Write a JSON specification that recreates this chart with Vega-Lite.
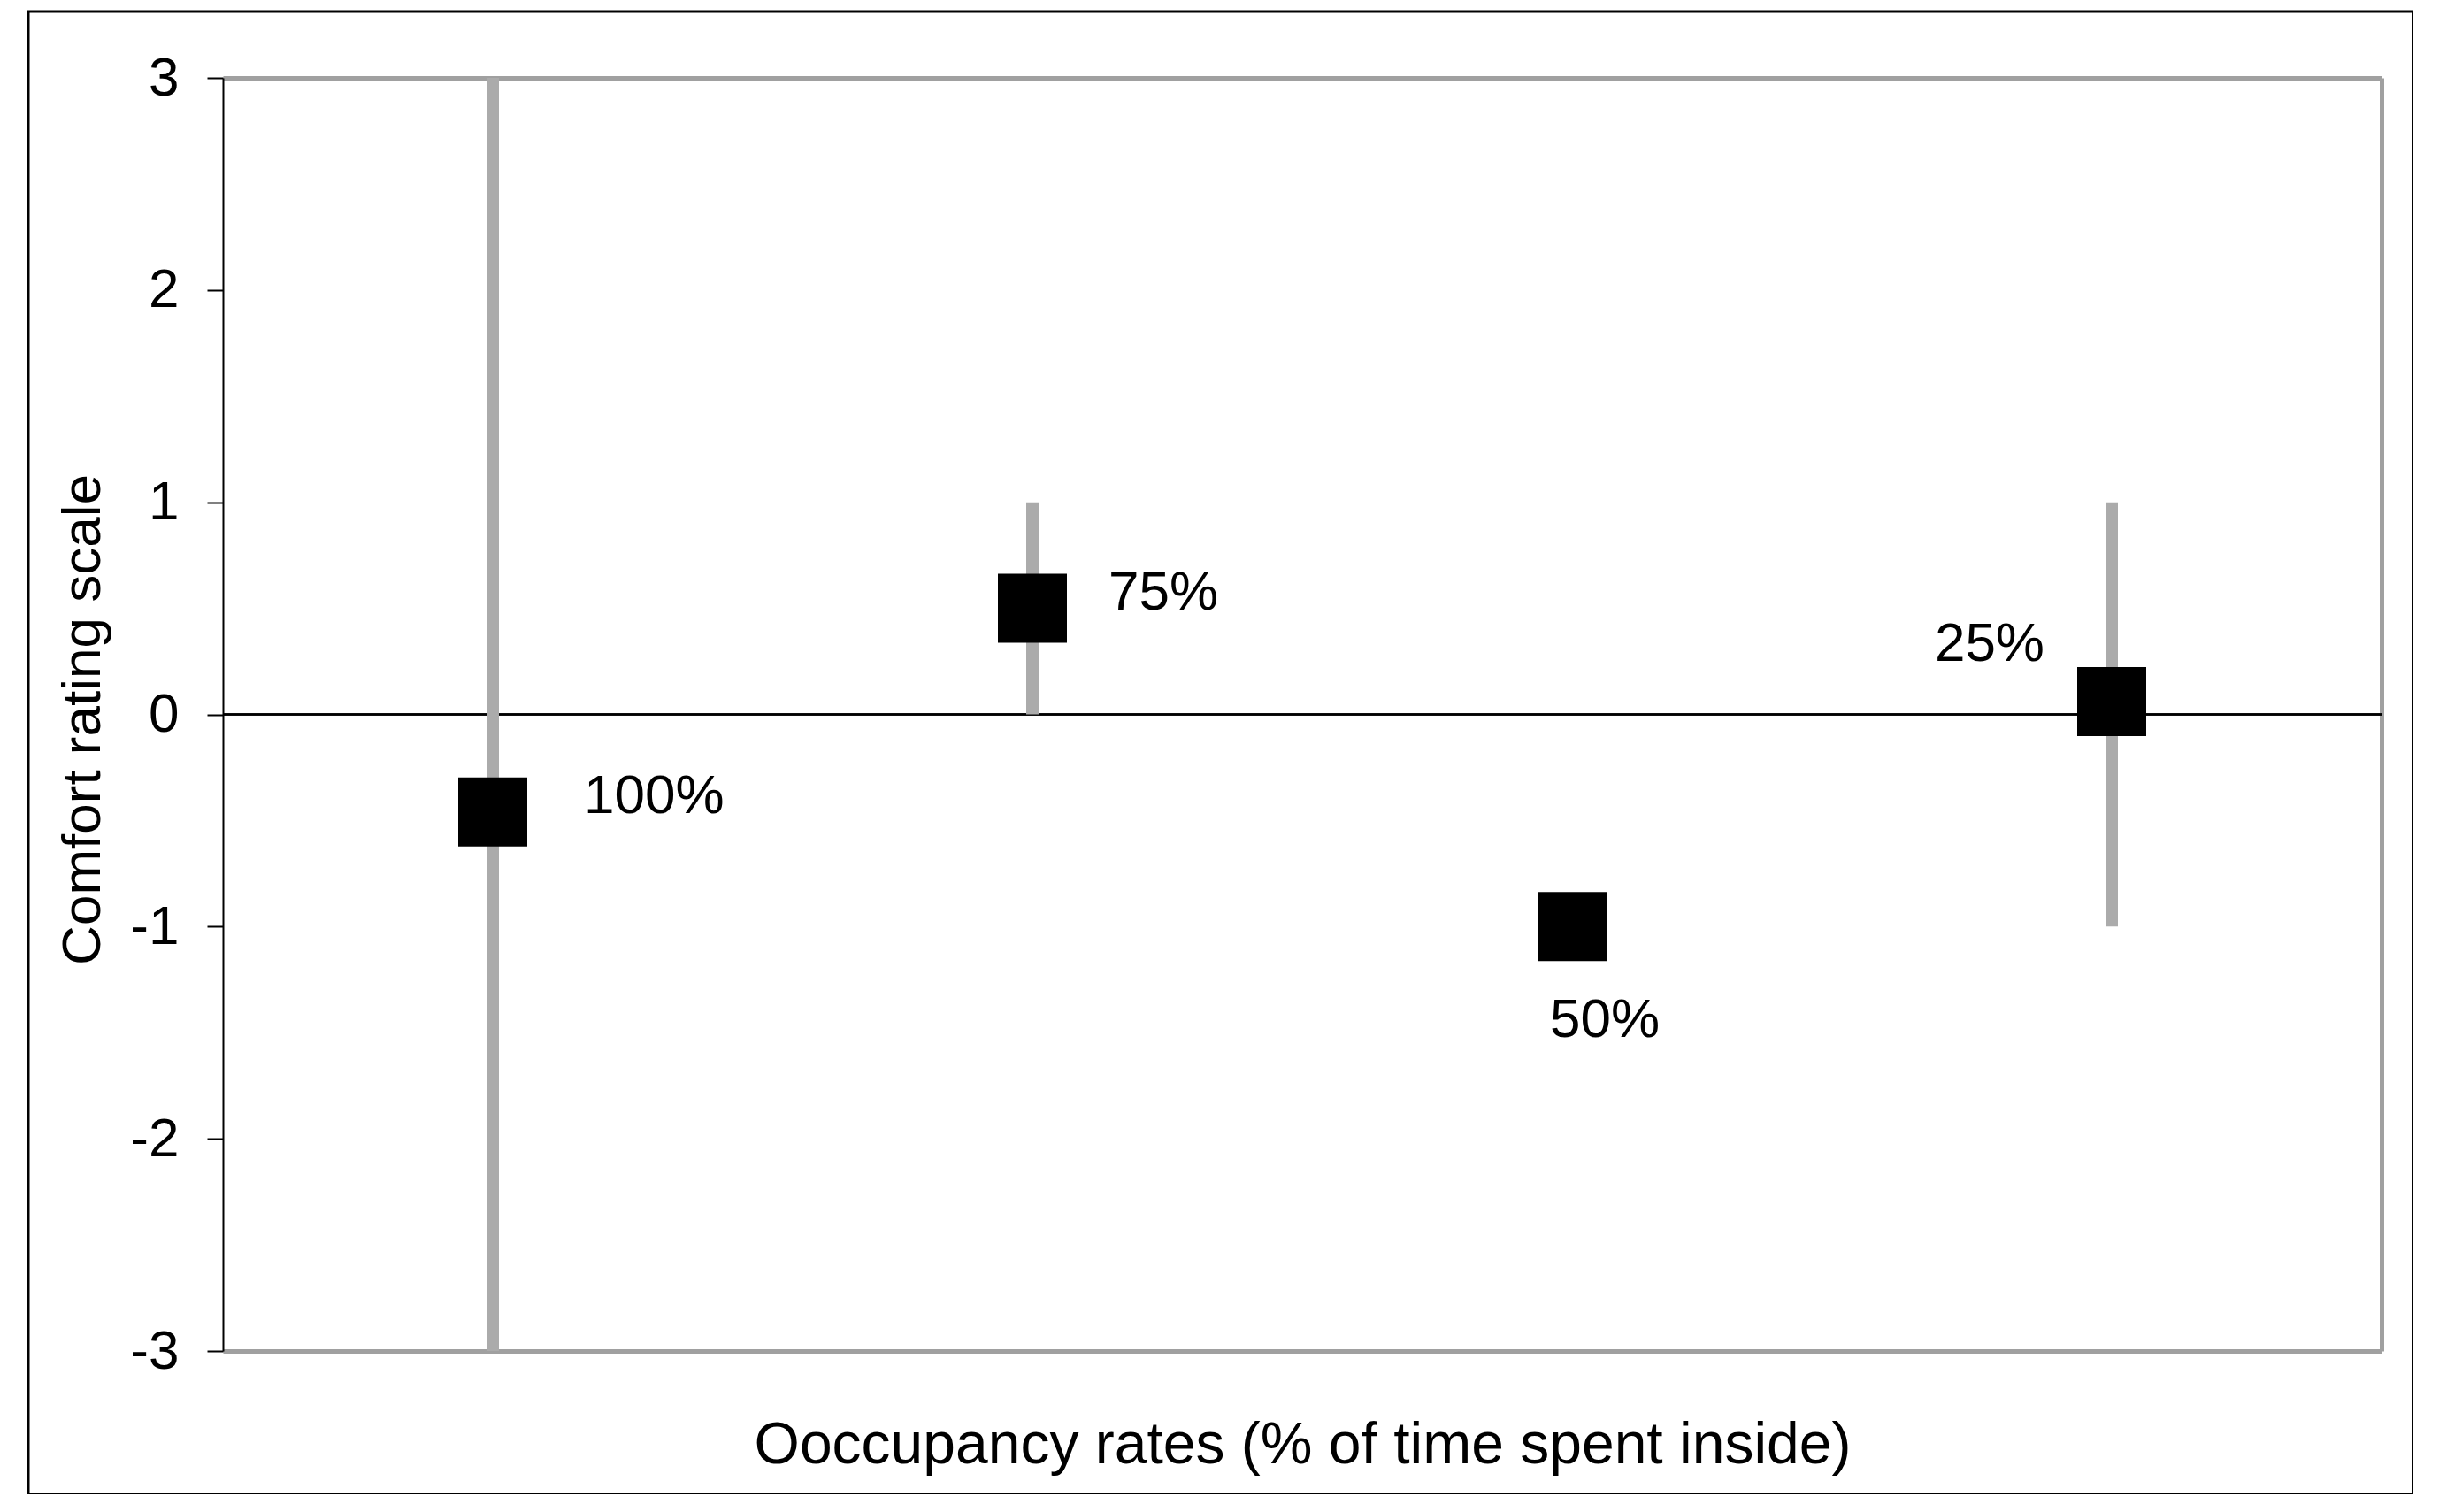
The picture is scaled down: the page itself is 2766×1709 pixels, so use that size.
{
  "$schema": "https://vega.github.io/schema/vega-lite/v6.json",
  "description": "Comfort rating by occupancy rate, mean with range bars.",
  "autosize": {"type": "none"},
  "padding": {"left": 32, "top": 13, "right": 0, "bottom": 0},
  "width": 2696,
  "height": 1676,
  "background": "white",
  "data": {
    "values": [
      {"occupancy": "100%", "mean": -0.46, "lo": -3, "hi": 3},
      {"occupancy": "75%", "mean": 0.5, "lo": 0, "hi": 1},
      {"occupancy": "50%", "mean": -1.0, "lo": null, "hi": null},
      {"occupancy": "25%", "mean": 0.06, "lo": -1, "hi": 1}
    ]
  },
  "layer": [
    {
      "layer": [
        {
          "mark": {"type": "rule", "color": "black", "strokeWidth": 2},
          "encoding": {
            "x": {
              "datum": "100%", "type": "ordinal", "bandPosition": 0,
              "scale": {"type": "band", "domain": ["100%", "75%", "50%", "25%"], "range": [220, 2660], "paddingInner": 0, "paddingOuter": 0},
              "title": "Ooccupancy rates (% of time spent inside)"
            },
            "x2": {"datum": "25%", "bandPosition": 1},
            "y": {
              "datum": 0, "type": "quantitative",
              "scale": {"domain": [-3, 3], "range": [1514, 75], "nice": false, "zero": false},
              "axis": {"values": [-3, -2, -1, 0, 1, 2, 3], "labelExpr": "'' + datum.value"},
              "title": "Comfort rating scale"
            }
          }
        },
        {
          "transform": [{"filter": "datum.lo != null"}],
          "mark": {"type": "rule", "color": "#ababab", "strokeWidth": 14},
          "encoding": {
            "x": {"field": "occupancy", "type": "ordinal", "title": "Ooccupancy rates (% of time spent inside)"},
            "y": {"field": "lo", "type": "quantitative", "title": "Comfort rating scale"},
            "y2": {"field": "hi"}
          }
        },
        {
          "mark": {"type": "point", "shape": "square", "filled": true, "color": "black", "opacity": 1, "size": 6084, "strokeWidth": 0},
          "encoding": {
            "x": {"field": "occupancy", "type": "ordinal", "title": "Ooccupancy rates (% of time spent inside)"},
            "y": {"field": "mean", "type": "quantitative", "title": "Comfort rating scale"}
          }
        },
        {
          "transform": [{"filter": "datum.occupancy == '100%'"}],
          "mark": {"type": "text", "align": "left", "baseline": "alphabetic", "dx": 103, "dy": 1, "fontSize": 62, "font": "Liberation Sans", "color": "black"},
          "encoding": {
            "x": {"field": "occupancy", "type": "ordinal", "title": "Ooccupancy rates (% of time spent inside)"},
            "y": {"field": "mean", "type": "quantitative", "title": "Comfort rating scale"},
            "text": {"field": "occupancy"}
          }
        },
        {
          "transform": [{"filter": "datum.occupancy == '75%'"}],
          "mark": {"type": "text", "align": "left", "baseline": "alphabetic", "dx": 86, "dy": 1, "fontSize": 62, "font": "Liberation Sans", "color": "black"},
          "encoding": {
            "x": {"field": "occupancy", "type": "ordinal", "title": "Ooccupancy rates (% of time spent inside)"},
            "y": {"field": "mean", "type": "quantitative", "title": "Comfort rating scale"},
            "text": {"field": "occupancy"}
          }
        },
        {
          "transform": [{"filter": "datum.occupancy == '50%'"}],
          "mark": {"type": "text", "align": "center", "baseline": "alphabetic", "dx": 37, "dy": 125, "fontSize": 62, "font": "Liberation Sans", "color": "black"},
          "encoding": {
            "x": {"field": "occupancy", "type": "ordinal", "title": "Ooccupancy rates (% of time spent inside)"},
            "y": {"field": "mean", "type": "quantitative", "title": "Comfort rating scale"},
            "text": {"field": "occupancy"}
          }
        },
        {
          "transform": [{"filter": "datum.occupancy == '25%'"}],
          "mark": {"type": "text", "align": "right", "baseline": "alphabetic", "dx": -76, "dy": -46, "fontSize": 62, "font": "Liberation Sans", "color": "black"},
          "encoding": {
            "x": {"field": "occupancy", "type": "ordinal", "title": "Ooccupancy rates (% of time spent inside)"},
            "y": {"field": "mean", "type": "quantitative", "title": "Comfort rating scale"},
            "text": {"field": "occupancy"}
          }
        }
      ]
    },
    {
      "mark": {"type": "point", "opacity": 0},
      "encoding": {
        "x": {"field": "occupancy", "type": "ordinal", "title": null, "axis": {"orient": "top"}},
        "y": {"field": "mean", "type": "quantitative", "title": null, "axis": {"orient": "right"}}
      }
    }
  ],
  "resolve": {"axis": {"x": "independent", "y": "independent"}},
  "config": {
    "font": "Liberation Sans",
    "view": {"stroke": "black", "strokeWidth": 3},
    "axis": {"grid": false, "labelColor": "black", "titleColor": "black", "titleFontWeight": "normal", "labelFont": "Liberation Sans", "titleFont": "Liberation Sans"},
    "axisLeft": {
      "offset": -220,
      "domainColor": "black", "domainWidth": 2,
      "tickColor": "black", "tickWidth": 2, "tickSize": 18,
      "labelFontSize": 62, "labelPadding": 32,
      "titleFontSize": 62, "titleX": -140, "titleY": 800, "titleBaseline": "alphabetic", "titleAngle": 270
    },
    "axisBottom": {
      "offset": -162,
      "domainColor": "#a0a0a0", "domainWidth": 5,
      "ticks": false, "labels": false,
      "titleFontSize": 66, "titlePadding": 74
    },
    "axisTop": {
      "offset": -75,
      "domainColor": "#a0a0a0", "domainWidth": 5,
      "ticks": false, "labels": false
    },
    "axisRight": {
      "offset": -36,
      "domainColor": "#a0a0a0", "domainWidth": 5,
      "ticks": false, "labels": false
    }
  }
}
